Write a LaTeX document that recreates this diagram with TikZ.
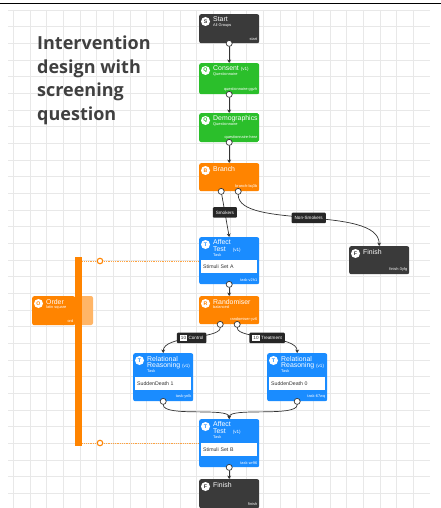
\documentclass[tikz,border=0pt]{standalone}
\usepackage{fontspec}
\setmainfont{Liberation Sans}
\newfontfamily\headfont{Open Sans}
\usetikzlibrary{arrows.meta}
\definecolor{ndark}{HTML}{3A3A3A}
\definecolor{ngreen}{HTML}{2BBF2B}
\definecolor{norange}{HTML}{FF8400}
\definecolor{nblue}{HTML}{1A8CFF}
\definecolor{nlight}{HTML}{FFB566}
\definecolor{connc}{HTML}{333333}
\definecolor{gridc}{HTML}{E8E8E8}
\definecolor{lblc}{HTML}{262626}
\definecolor{headc}{HTML}{404040}
\newcommand{\subtx}[1]{{\fontsize{3.9}{4}\selectfont #1}}
\newcommand{\vtag}[1]{{\fontsize{4.6}{5}\selectfont #1}}
\newcommand{\cntbox}[1]{{\setlength{\fboxsep}{1pt}\colorbox{white}{\textcolor{lblc}{#1}}}}
\newcommand{\flowbox}[9]{%
  \node[nodebox, fill=#6, minimum width=#4pt, minimum height=#5pt] (#1) at (#2,#3) {};
  \node[iconc, text=#6] (#1-ic) at ([shift={(6.5,7.5)}]#1.north west) {#7};
  \node[ttltxt] (#1-tt) at ([shift={(14,2.8)}]#1.north west) {#8};
  \node[idtxt] (#1-id) at ([shift={(-2,-2.5)}]#1.south east) {#9};
}
\tikzset{
  nodebox/.style={anchor=north west, rounded corners=2pt, inner sep=0pt, draw=none},
  iconc/.style={circle, fill=white, minimum size=9pt, inner sep=0pt, font=\fontsize{5.2}{5}\selectfont\bfseries},
  ttltxt/.style={anchor=north west, inner sep=0pt, align=left, text=white, font=\fontsize{6.9}{7.3}\selectfont},
  idtxt/.style={anchor=south east, inner sep=0pt, text=white, font=\fontsize{3.9}{4}\selectfont},
  inbox/.style={anchor=north west, fill=white, text width=52pt, align=left, minimum height=13pt, inner xsep=2pt, inner ysep=0pt, text=black!80, font=\fontsize{5.2}{5}\selectfont},
  port/.style={circle, draw=connc, fill=white, line width=0.7pt, minimum size=6pt, inner sep=0pt},
  link/.style={draw=connc, line width=0.7pt, -{Stealth[length=3.5pt,width=3.8pt]}},
  lbl/.style={fill=lblc, text=white, rounded corners=1pt, inner xsep=3pt, inner ysep=0pt, minimum height=10.5pt, font=\fontsize{4.6}{5}\selectfont},
  odot/.style={draw=norange!75, line width=0.6pt, dash pattern=on 1pt off 0.8pt},
  ocirc/.style={circle, draw=norange, fill=white, line width=1.1pt, minimum size=5.5pt, inner sep=0pt}
}
\begin{document}
\begin{tikzpicture}[x=1pt, y=-1pt]
\useasboundingbox (0,0) rectangle (441,508);
\fill[white] (0,0) rectangle (441,508);
% grid
\foreach \i in {0,...,24} \draw[gridc, line width=0.5pt] ({13.33+16.667*\i},10) -- ({13.33+16.667*\i},508);
\foreach \j in {0,...,29} \draw[gridc, line width=0.5pt] (8,{10+16.667*\j}) -- (430,{10+16.667*\j});
\draw[black, line width=1pt] (0,4) -- (441,4);
% title
\node[anchor=north west, inner sep=0pt, align=left, text=headc, font=\headfont\bfseries\fontsize{18}{23.5}\selectfont] (title) at (37,36) {Intervention\\design with\\screening\\question};
% nodes
\flowbox{start}{199}{14}{60}{29}{ndark}{S}{Start\\[-2.5pt]\subtx{All Groups}}{start}
\flowbox{consent}{199}{63}{60}{31}{ngreen}{Q}{Consent \vtag{(v1)}\\[-2.5pt]\subtx{Questionnaire}}{questionnaire-ggzh}
\begin{scope}
\clip[rounded corners=2pt] (199,113) rectangle (259,142);
\flowbox{demo}{199}{113}{60}{29}{ngreen}{Q}{Demographics \vtag{(v1)}\\[-2.5pt]\subtx{Questionnaire}}{questionnaire-hear}
\end{scope}
\flowbox{branch}{199}{163}{60}{28}{norange}{B}{Branch}{branch-bq3b}
\flowbox{affA}{199}{237}{60}{47}{nblue}{T}{Affect\\[-1pt]Test\quad\vtag{(v1)}\\[-2.5pt]\subtx{Task}}{task-v2h1}
\node[inbox] (affA-in) at ([shift={(2,23)}]affA.north west) {Stimuli Set A};
\flowbox{finR}{349}{246}{60}{28}{ndark}{F}{Finish}{finish-3yfg}
\flowbox{rand}{199}{296}{60}{28}{norange}{R}{Randomiser\\[-2.5pt]\subtx{balanced}}{randomiser-yz6}
\flowbox{rrL}{133}{353}{60}{48}{nblue}{T}{Relational\\[-1pt]Reasoning \vtag{(v1)}\\[-2.5pt]\subtx{Task}}{task-ynlk}
\node[inbox] (rrL-in) at ([shift={(2,24)}]rrL.north west) {SuddenDeath 1};
\flowbox{rrR}{267}{353}{60}{48}{nblue}{T}{Relational\\[-1pt]Reasoning \vtag{(v1)}\\[-2.5pt]\subtx{Task}}{task-67wq}
\node[inbox] (rrR-in) at ([shift={(2,24)}]rrR.north west) {SuddenDeath 0};
\flowbox{affB}{199}{419}{60}{48}{nblue}{T}{Affect\\[-1pt]Test\quad\vtag{(v1)}\\[-2.5pt]\subtx{Task}}{task-wr96}
\node[inbox] (affB-in) at ([shift={(2,24)}]affB.north west) {Stimuli Set B};
\flowbox{finB}{199}{479}{60}{29}{ndark}{F}{Finish}{finish}
% order node and bar
\flowbox{order}{32}{296}{43}{29}{norange}{O}{Order\\[-2.5pt]\subtx{latin square}}{ord}
\fill[nlight, rounded corners=2pt] (78,296) rectangle (93,325);
\node[fill=norange, minimum width=7pt, minimum height=189pt, inner sep=0pt, anchor=north west] (obar) at (75,257) {};
\coordinate (oa) at (100,261);
\coordinate (ob) at (100,443);
\draw[odot] (obar.east |- oa) -- (oa -| affA.west);
\draw[odot] (obar.east |- ob) -- (ob -| affB.west);
\node[ocirc] (oca) at (oa) {};
\node[ocirc] (ocb) at (ob) {};
% ports
\node[port] (start-p) at (start.south) {};
\node[port] (consent-p) at (consent.south) {};
\node[port] (demo-p) at (demo.south) {};
\node[port] (branch-p1) at ([xshift=-8]branch.south) {};
\node[port] (branch-p2) at ([xshift=9]branch.south) {};
\node[port] (affA-p) at (affA.south) {};
\node[port] (rand-p1) at ([xshift=-9]rand.south) {};
\node[port] (rand-p2) at ([xshift=8]rand.south) {};
\node[port] (rrL-p) at (rrL.south) {};
\node[port] (rrR-p) at (rrR.south) {};
\node[port] (affB-p) at (affB.south) {};
% links
\draw[link] (start-p) -- (consent.north);
\draw[link] (consent-p) -- (demo.north);
\draw[link] (demo-p) -- (branch.north);
\draw[link] (branch-p1) -- node[lbl, pos=0.42] (smk) {Smokers} (affA.north);
\draw[link] (branch-p2) .. controls +(0,38) and +(0,-41) .. (finR.north) node[lbl, pos=0.5] (nsmk) {Non-Smokers};
\draw[link] (affA-p) -- (rand.north);
\draw[link] (rand-p1) .. controls +(0,15) and +(0,-18) .. (rrL.north) node[lbl, pos=0.5] (ctl) {\cntbox{10}\,\,Control};
\draw[link] (rand-p2) .. controls +(0,15) and +(0,-18) .. (rrR.north) node[lbl, pos=0.5] (trt) {\cntbox{10}\,\,Treatment};
\draw[link] (rrL-p) .. controls +(0,16) and +(0,-12) .. (affB.north);
\draw[link] (rrR-p) .. controls +(0,16) and +(0,-12) .. (affB.north);
\draw[link] (affB-p) -- (finB.north);
\end{tikzpicture}
\end{document}
